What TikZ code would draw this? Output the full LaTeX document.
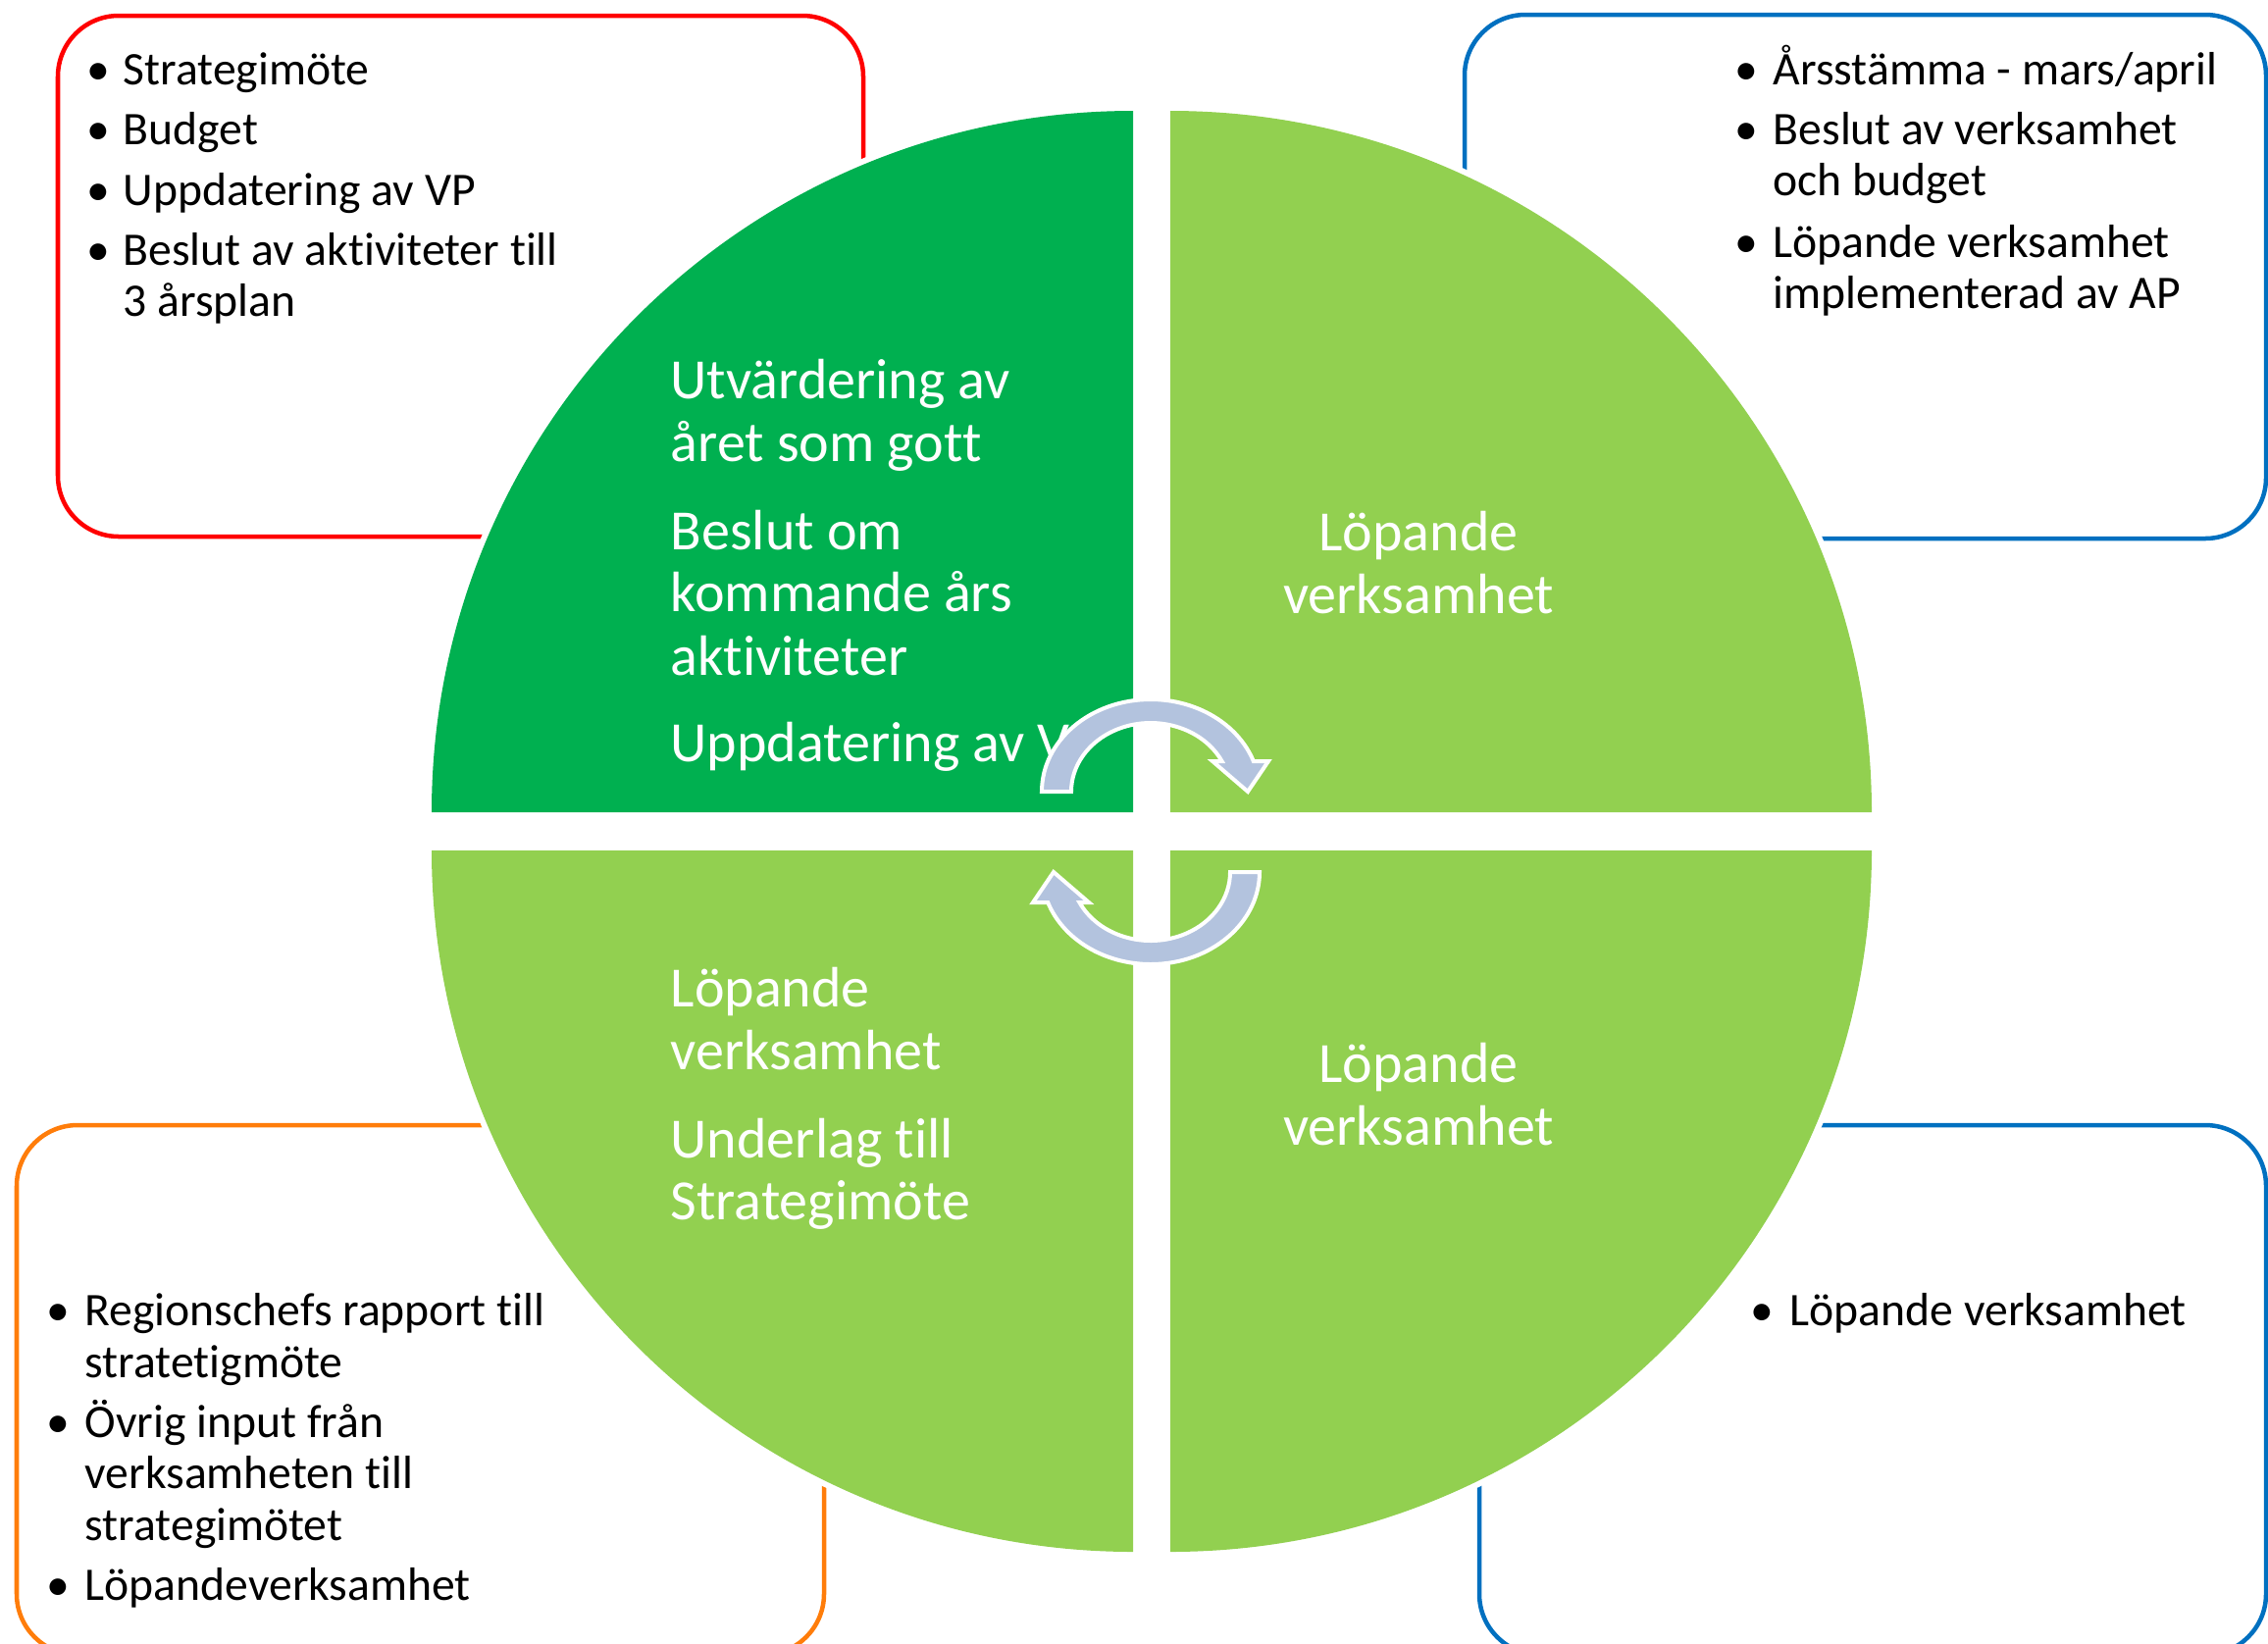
\documentclass[tikz,border=0pt]{standalone}
\usepackage{fontspec}
\setmainfont{Carlito}[Ligatures={NoCommon}]
\definecolor{dkgreen}{HTML}{00B050}
\definecolor{ltgreen}{HTML}{92D050}
\definecolor{boxred}{HTML}{FF0000}
\definecolor{boxblue}{HTML}{0070C0}
\definecolor{boxorange}{RGB}{255,125,10}
\definecolor{arrowblue}{RGB}{179,195,222}
\begin{document}
\begin{tikzpicture}[x=0.01cm,y=0.01cm,
  frame/.style={line width=0.045cm, rounded corners=0.62cm},
  blk/.style={anchor=base west, inner sep=0pt, font=\fontsize{13.55}{16}\selectfont, text=black},
  bul/.style={anchor=base, inner sep=0pt, font=\fontsize{13.55}{16}\selectfont, text=black},
  wht/.style={anchor=base west, inner sep=0pt, font=\fontsize{16.5}{19}\selectfont, text=white},
  whtc/.style={anchor=base, inner sep=0pt, font=\fontsize{16.5}{19}\selectfont, text=white},
  halo/.style={fill=white, draw=white, line width=0.12cm},
  cyc/.style={fill=arrowblue, draw=white, line width=0.04cm, line join=miter}
]
\useasboundingbox (0,0) rectangle (2312,-1675);
\clip (0,0) rectangle (2312,-1675);
\fill[white] (0,0) rectangle (2312,-1675);

% corner frames
\draw[frame, draw=boxred] (59,-16) rectangle (880,-547);
\draw[frame, draw=boxblue] (1493,-15) rectangle (2310,-549);
\draw[frame, draw=boxorange] (17,-1147) rectangle (840,-1687);
\draw[frame, draw=boxblue] (1508,-1147) rectangle (2310,-1687);

% top-left frame text
\node[bul] (b1) at (100,-86) {•};
\node[blk] (a1) at (125,-86) {Strategimöte};
\node[bul] (b2) at (100,-147) {•};
\node[blk] (a2) at (125,-147) {Budget};
\node[bul] (b3) at (100,-209) {•};
\node[blk] (a3) at (125,-209) {Uppdatering av VP};
\node[bul] (b4) at (100,-270) {•};
\node[blk] (a4) at (125,-270) {Beslut av aktiviteter till};
\node[blk] (a5) at (125,-322) {3 årsplan};

% top-right frame text
\node[bul] (c1b) at (1780,-86) {•};
\node[blk] (c1) at (1807,-86) {Årsstämma - mars/april};
\node[bul] (c2b) at (1780,-147) {•};
\node[blk] (c2) at (1807,-147) {Beslut av verksamhet};
\node[blk] (c3) at (1807,-199) {och budget};
\node[bul] (c4b) at (1780,-262) {•};
\node[blk] (c4) at (1807,-262) {Löpande verksamhet};
\node[blk] (c5) at (1807,-314) {implementerad av AP};

% bottom-left frame text
\node[bul] (d1b) at (59,-1351) {•};
\node[blk] (d1) at (86,-1351) {Regionschefs rapport till};
\node[blk] (d2) at (86,-1404) {stratetigmöte};
\node[bul] (d3b) at (59,-1465) {•};
\node[blk] (d3) at (86,-1465) {Övrig input från};
\node[blk] (d4) at (86,-1517) {verksamheten till};
\node[blk] (d5) at (86,-1570) {strategimötet};
\node[bul] (d6b) at (59,-1631) {•};
\node[blk] (d6) at (86,-1631) {Löpandeverksamhet};

% bottom-right frame text
\node[bul] (e1b) at (1796,-1351) {•};
\node[blk] (e1) at (1824,-1351) {Löpande verksamhet};

% quadrants (white halo, then fill)
\path[halo] (1155,-828) -- (440,-828) arc[start angle=180, end angle=90, radius=715] -- cycle;
\path[halo] (1193,-828) -- (1193,-113) arc[start angle=90, end angle=0, radius=715] -- cycle;
\path[halo] (1155,-867) -- (1155,-1582) arc[start angle=270, end angle=180, radius=715] -- cycle;
\path[halo] (1193,-867) -- (1908,-867) arc[start angle=0, end angle=-90, radius=715] -- cycle;
\fill[dkgreen] (1155,-828) -- (440,-828) arc[start angle=180, end angle=90, radius=715] -- cycle;
\fill[ltgreen] (1193,-828) -- (1193,-113) arc[start angle=90, end angle=0, radius=715] -- cycle;
\fill[ltgreen] (1155,-867) -- (1155,-1582) arc[start angle=270, end angle=180, radius=715] -- cycle;
\fill[ltgreen] (1193,-867) -- (1908,-867) arc[start angle=0, end angle=-90, radius=715] -- cycle;

% quadrant texts
\node[wht] (q1) at (683,-406) {Utvärdering av};
\node[wht] (q2) at (683,-470) {året som gott};
\node[wht] (q3) at (683,-560) {Beslut om};
\node[wht] (q4) at (683,-623) {kommande års};
\node[wht] (q5) at (683,-688) {aktiviteter};
\node[wht] (q6) at (683,-776) {Uppdatering av VP};

\node[whtc] (r1) at (1446,-561) {Löpande};
\node[whtc] (r2) at (1446,-625) {verksamhet};

\node[wht] (s1) at (683,-1026) {Löpande};
\node[wht] (s2) at (683,-1090) {verksamhet};
\node[wht] (s3) at (683,-1180) {Underlag till};
\node[wht] (s4) at (683,-1243) {Strategimöte};

\node[whtc] (t1) at (1446,-1103) {Löpande};
\node[whtc] (t2) at (1446,-1167) {verksamhet};

% circular arrows
\path[cyc] (1062,-807) arc[start angle=180, end angle=19.26, x radius=111, y radius=94]
  -- (1293,-776) -- (1272,-807) -- (1236,-776) -- (1245.6,-776)
  arc[start angle=26.3, end angle=180, x radius=81, y radius=70] -- cycle;
\begin{scope}[rotate around={180:(1173,-848)}]
\path[cyc] (1062,-807) arc[start angle=180, end angle=19.26, x radius=111, y radius=94]
  -- (1293,-776) -- (1272,-807) -- (1236,-776) -- (1245.6,-776)
  arc[start angle=26.3, end angle=180, x radius=81, y radius=70] -- cycle;
\end{scope}
\end{tikzpicture}
\end{document}
